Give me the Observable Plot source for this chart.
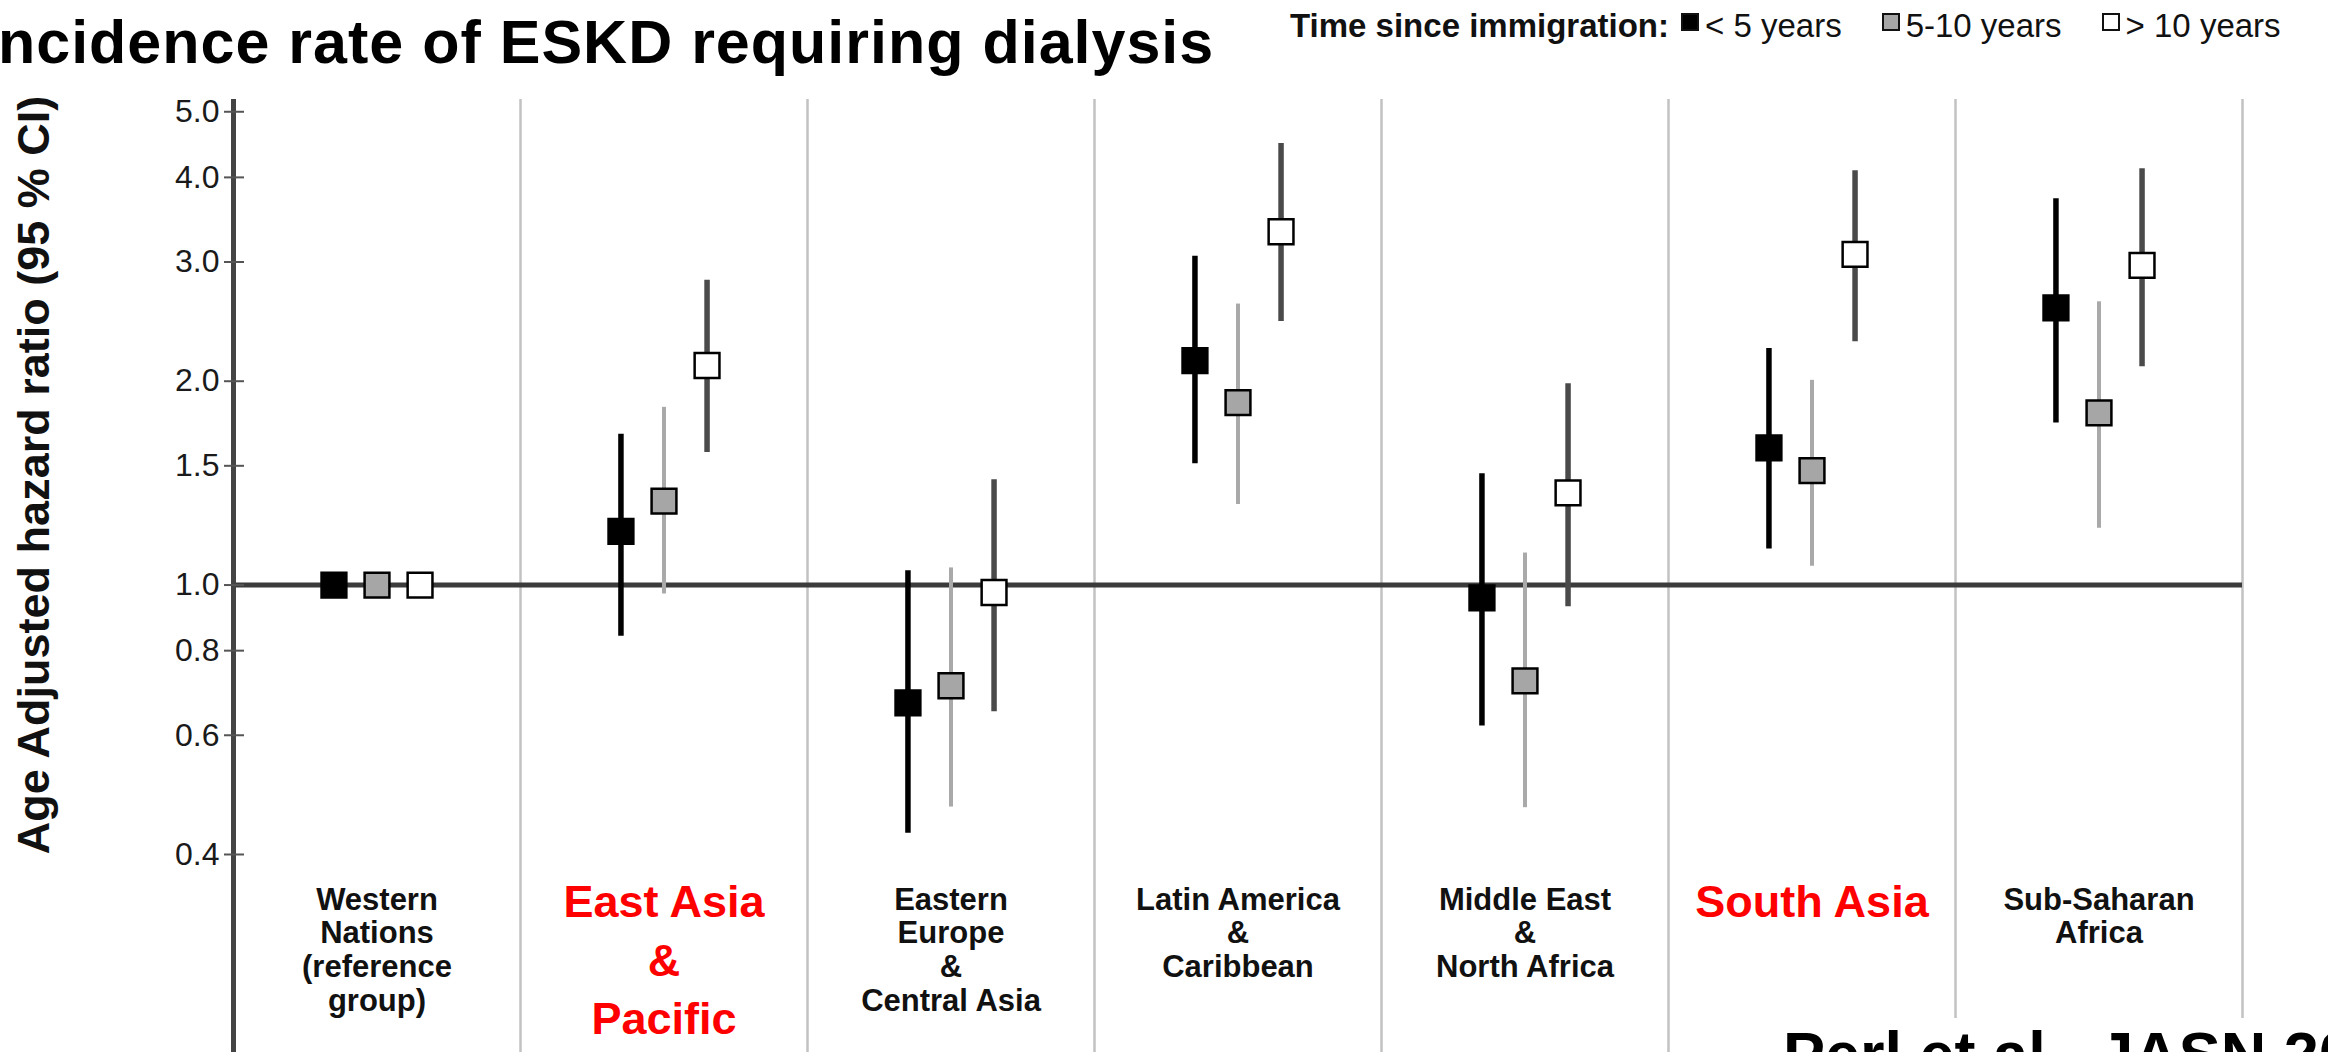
<!DOCTYPE html>
<html>
<head>
<meta charset="utf-8">
<script src="https://cdn.jsdelivr.net/npm/d3@7"></script>
<script src="https://cdn.jsdelivr.net/npm/@observablehq/plot@0.6"></script>
<style>
  html, body { margin: 0; padding: 0; background: #fff; }
  #wrap { position: relative; width: 2328px; height: 1052px; overflow: hidden; background: #fff;
          font-family: "Liberation Sans", Arial, Helvetica, sans-serif; }
  #chart { position: absolute; left: 0; top: 0; }
  #title { position: absolute; left: -20px; top: 12px; font-size: 61px; line-height: 61px; font-weight: bold;
           letter-spacing: 1px; white-space: nowrap; color: #000; }
  #legend { position: absolute; left: 1290px; top: 9px; font-size: 33px; line-height: 33px; white-space: nowrap; color: #111; }
  #legend .lab { font-weight: bold; margin-right: 12px; }
  #legend .sw { display: inline-block; width: 14px; height: 14px; border: 2px solid #111; margin: 0 6px 6px 0; vertical-align: baseline; }
  #legend .item { margin-right: 40px; }
  #legend .item:last-child { margin-right: 0; }
  #ylabel { position: absolute; width: 820px; height: 50px; line-height: 50px; left: -376px; top: 450px; text-align: center;
            transform: rotate(-90deg); font-size: 45px; font-weight: bold; white-space: nowrap; color: #111; }
  #caption { position: absolute; left: 1760px; top: 1018px; width: 600px; height: 34px; overflow: hidden; background: #fff;
             padding-left: 23px; box-sizing: border-box; }
  #caption span { display: block; margin-top: 5px; font-size: 63px; line-height: 63px; font-weight: bold; white-space: nowrap; color: #000; }
</style>
</head>
<body>
<div id="wrap">
  <div id="chart"></div>
  <div id="title">Incidence rate of ESKD requiring dialysis</div>
  <div id="legend"></div>
  <div id="ylabel">Age Adjusted hazard ratio (95 % CI)</div>
  <div id="caption"><span>Perl et al., JASN 2016</span></div>
</div>
<script>
// ---------------- data ----------------
const regions = [
  "Western Nations (reference group)",
  "East Asia & Pacific",
  "Eastern Europe & Central Asia",
  "Latin America & Caribbean",
  "Middle East & North Africa",
  "South Asia",
  "Sub-Saharan Africa"
];
const regionLabels = [
  "Western\nNations\n(reference\ngroup)",
  "East Asia\n&\nPacific",
  "Eastern\nEurope\n&\nCentral Asia",
  "Latin America\n&\nCaribbean",
  "Middle East\n&\nNorth Africa",
  "South Asia",
  "Sub-Saharan\nAfrica"
];
const highlighted = ["East Asia & Pacific", "South Asia"];
const groups = ["< 5 years", "5-10 years", "> 10 years"];

const hrUnder5 = [1.00, 1.20, 0.67, 2.145, 0.957, 1.594, 2.567];
const loUnder5 = [null, 0.84, 0.43, 1.51, 0.619, 1.13, 1.735];
const hiUnder5 = [null, 1.67, 1.05, 3.06, 1.46, 2.235, 3.72];

const hr5to10 = [1.00, 1.33, 0.71, 1.86, 0.722, 1.476, 1.796];
const lo5to10 = [null, 0.97, 0.47, 1.315, 0.469, 1.066, 1.213];
const hi5to10 = [null, 1.83, 1.06, 2.60, 1.115, 2.006, 2.62];

const hrOver10 = [1.00, 2.11, 0.975, 3.325, 1.368, 3.078, 2.965];
const loOver10 = [null, 1.57, 0.65, 2.45, 0.929, 2.288, 2.10];
const hiOver10 = [null, 2.82, 1.43, 4.49, 1.983, 4.09, 4.12];

const yTicks = [0.4, 0.6, 0.8, 1.0, 1.5, 2.0, 3.0, 4.0, 5.0];

// ---------------- build ----------------
const seriesValues = [
  [hrUnder5, loUnder5, hiUnder5],
  [hr5to10, lo5to10, hi5to10],
  [hrOver10, loOver10, hiOver10]
];
const rows = [];
groups.forEach((g, gi) => {
  regions.forEach((r, ri) => {
    const [hr, lo, hi] = seriesValues[gi];
    rows.push({region: r, ri, group: g, gi, hr: hr[ri], lo: lo[ri], hi: hi[ri]});
  });
});
const labelRows = regions.map((r, ri) => ({region: r, ri, label: regionLabels[ri], red: highlighted.includes(r)}));
const boundaries = d3.range(regions.length).map(i => i + 0.5);

const offset = [-0.15, 0, 0.15];
const sqFill = ["#000000", "#a6a6a6", "#ffffff"];
const ciStroke = ["#000000", "#a9a9a9", "#4a4a4a"];
const ciWidth = [5.5, 4, 5.5];

const marks = [
  Plot.ruleX(boundaries, {x: d => d, stroke: "#c2c2c2", strokeWidth: 2.5, insetBottom: -182}),
  Plot.ruleY([1], {y: d => d, stroke: "#3b3b3b", strokeWidth: 5}),
  Plot.ruleX([-0.5], {x: d => d, stroke: "#444", strokeWidth: 5, insetBottom: -182}),
  Plot.axisY({ticks: yTicks, tickFormat: d3.format(".1f"), tickSize: 9, tickPadding: 5, fontSize: 32,
              stroke: "#555", strokeWidth: 2, fill: "#1a1a1a", label: null}),
  Plot.axisY({ticks: yTicks, tickSize: -11, tickFormat: () => "", stroke: "#555", strokeWidth: 2, label: null})
];
groups.forEach((g, gi) => {
  const data = rows.filter(d => d.gi === gi && d.lo != null);
  marks.push(Plot.ruleX(data, {x: d => d.ri + offset[gi], y1: "lo", y2: "hi", stroke: ciStroke[gi], strokeWidth: ciWidth[gi]}));
});
groups.forEach((g, gi) => {
  const data = rows.filter(d => d.gi === gi);
  marks.push(Plot.dot(data, {x: d => d.ri + offset[gi], y: "hr", symbol: "square", r: 14,
                             fill: sqFill[gi], stroke: "#000", strokeWidth: 2.5}));
});
marks.push(Plot.text(labelRows.filter(d => !d.red), {x: "ri", text: "label", frameAnchor: "bottom", lineAnchor: "top",
  dy: 15, fontSize: 31, fontWeight: "bold", lineHeight: 1.09, fill: "#111"}));
marks.push(Plot.text(labelRows.filter(d => d.red), {x: "ri", text: "label", frameAnchor: "bottom", lineAnchor: "top",
  dy: 5, fontSize: 45, fontWeight: "bold", lineHeight: 1.3, fill: "#ff0000"}));

const chart = Plot.plot({
  width: 2328,
  height: 1052,
  marginLeft: 233,
  marginRight: 86,
  marginTop: 99,
  marginBottom: 182,
  style: {fontFamily: "'Liberation Sans', Arial, Helvetica, sans-serif", background: "transparent", overflow: "visible"},
  x: {domain: [-0.5, 6.5], axis: null},
  y: {type: "log", domain: [0.3788, 5.213]},
  marks
});
document.getElementById("chart").appendChild(chart);

// legend
const legend = document.getElementById("legend");
const lab = document.createElement("span");
lab.className = "lab";
lab.textContent = "Time since immigration:";
legend.appendChild(lab);
groups.forEach((g, gi) => {
  const item = document.createElement("span");
  item.className = "item";
  const sw = document.createElement("span");
  sw.className = "sw";
  sw.style.background = sqFill[gi];
  item.appendChild(sw);
  item.appendChild(document.createTextNode(g));
  legend.appendChild(item);
});
</script>
</body>
</html>
